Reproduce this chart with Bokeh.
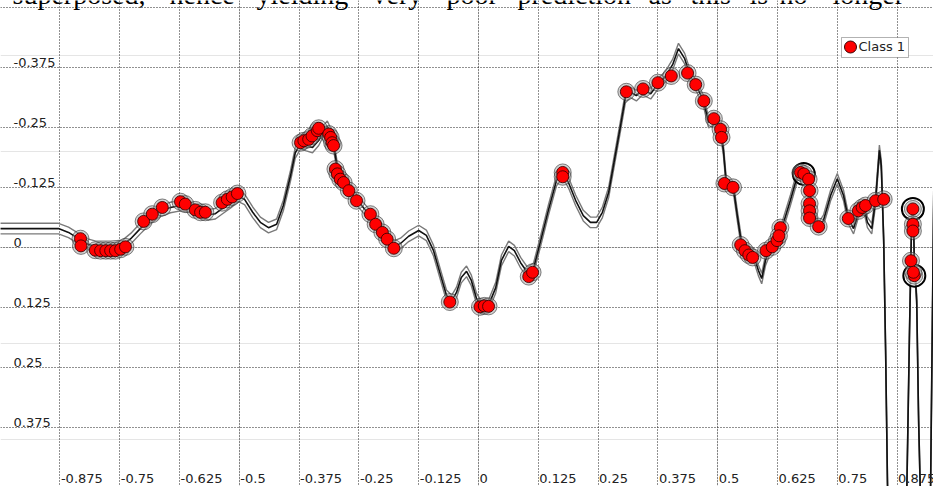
from bokeh.plotting import figure
from bokeh.models import Range1d, Grid, FixedTicker, BoxAnnotation
from bokeh.core.properties import value
from bokeh.embed import file_html
from bokeh.resources import INLINE

# ---------------- data ----------------
CURVE_X = [-1.000, -0.878, -0.857, -0.836, -0.815, -0.800, -0.769, -0.744, -0.727, -0.707,
           -0.686, -0.665, -0.644, -0.623, -0.602, -0.581, -0.564, -0.550, -0.535, -0.518,
           -0.502, -0.489, -0.472, -0.456, -0.439, -0.422, -0.408, -0.393, -0.383, -0.372,
           -0.360, -0.347, -0.334, -0.324, -0.316, -0.307, -0.301, -0.295, -0.278, -0.257,
           -0.236, -0.215, -0.194, -0.178, -0.163, -0.146, -0.125, -0.109, -0.094, -0.079,
           -0.067, -0.056, -0.046, -0.036, -0.025, -0.015, -0.004, 0.006, 0.021, 0.036,
           0.048, 0.063, 0.075, 0.088, 0.102, 0.115, 0.130, 0.146, 0.163, 0.176,
           0.188, 0.203, 0.219, 0.234, 0.247, 0.259, 0.272, 0.284, 0.297, 0.307,
           0.318, 0.330, 0.343, 0.360, 0.374, 0.391, 0.406, 0.418, 0.431, 0.443,
           0.458, 0.470, 0.481, 0.489, 0.497, 0.506, 0.512, 0.518, 0.533, 0.541,
           0.550, 0.564, 0.577, 0.585, 0.592, 0.600, 0.610, 0.623, 0.635, 0.652,
           0.667, 0.677, 0.688, 0.694, 0.702, 0.711, 0.721, 0.736, 0.750, 0.763,
           0.773, 0.784, 0.794, 0.805, 0.813, 0.822, 0.830, 0.838, 0.842, 0.847,
           0.851, 0.855, 0.874, 0.895, 0.901, 0.905, 0.907, 0.909, 0.911, 0.916,
           0.920, 0.924, 0.934, 0.945, 0.952]
CURVE_Y = [-0.040, -0.040, -0.032, -0.019, -0.007, -0.003, -0.003, -0.005, -0.019, -0.040,
           -0.061, -0.076, -0.084, -0.088, -0.084, -0.074, -0.069, -0.071, -0.082, -0.094,
           -0.107, -0.101, -0.074, -0.053, -0.042, -0.049, -0.088, -0.150, -0.198, -0.217,
           -0.213, -0.209, -0.224, -0.244, -0.253, -0.234, -0.203, -0.165, -0.134, -0.103,
           -0.078, -0.053, -0.024, -0.003, -0.009, -0.024, -0.036, -0.026, 0.006, 0.058,
           0.099, 0.110, 0.093, 0.062, 0.049, 0.068, 0.106, 0.122, 0.120, 0.083,
           0.026, -0.003, 0.006, 0.031, 0.051, 0.043, -0.015, -0.078, -0.140, -0.157,
           -0.136, -0.099, -0.067, -0.053, -0.053, -0.074, -0.115, -0.182, -0.255, -0.313,
           -0.324, -0.317, -0.330, -0.321, -0.340, -0.357, -0.382, -0.415, -0.394, -0.357,
           -0.332, -0.307, -0.261, -0.265, -0.269, -0.244, -0.203, -0.134, -0.124, -0.067,
           -0.007, 0.014, 0.022, 0.047, 0.064, 0.026, 0.001, -0.015, -0.044, -0.099,
           -0.151, -0.157, -0.144, -0.109, -0.067, -0.042, -0.057, -0.109, -0.144, -0.109,
           -0.061, -0.040, -0.074, -0.088, -0.053, -0.040, -0.099, -0.203, -0.171, -0.015,
           0.214, 0.497, 1.151, 0.526, 0.172, -0.036, -0.082, -0.067, 0.026, 0.110,
           0.360, 0.526, 0.943, 0.500, -0.150]
BAND = 0.011  # half-width of the grey confidence lines

PTS_X = [-0.832, -0.831, -0.801, -0.790, -0.779, -0.769, -0.759, -0.748, -0.738, -0.700,
         -0.682, -0.661, -0.623, -0.613, -0.592, -0.581, -0.571, -0.536, -0.525, -0.515,
         -0.504, -0.372, -0.365, -0.355, -0.348, -0.337, -0.334, -0.313, -0.309, -0.306,
         -0.303, -0.299, -0.295, -0.289, -0.282, -0.271, -0.255, -0.226, -0.215, -0.201,
         -0.191, -0.177, -0.060, 0.003, 0.012, 0.021, 0.105, 0.113, 0.176, 0.176,
         0.309, 0.344, 0.375, 0.403, 0.437, 0.454, 0.471, 0.492, 0.506, 0.508,
         0.514, 0.532, 0.548, 0.557, 0.565, 0.573, 0.601, 0.614, 0.624, 0.631,
         0.628, 0.673, 0.680, 0.690, 0.692, 0.692, 0.692, 0.692, 0.711, 0.773,
         0.794, 0.802, 0.809, 0.830, 0.847, 0.908, 0.908, 0.908, 0.904, 0.911, 0.909]
PTS_Y = [-0.019, -0.004, 0.005, 0.006, 0.006, 0.006, 0.006, 0.003, -0.002, -0.055,
         -0.070, -0.084, -0.096, -0.091, -0.079, -0.074, -0.074, -0.094, -0.101, -0.106,
         -0.113, -0.219, -0.223, -0.226, -0.233, -0.244, -0.249, -0.237, -0.230, -0.219,
         -0.213, -0.164, -0.154, -0.143, -0.136, -0.119, -0.098, -0.070, -0.049, -0.032,
         -0.018, 0.001, 0.113, 0.123, 0.121, 0.122, 0.060, 0.051, -0.157, -0.148,
         -0.325, -0.331, -0.344, -0.358, -0.364, -0.340, -0.306, -0.269, -0.247, -0.230,
         -0.134, -0.126, -0.006, 0.006, 0.015, 0.020, 0.006, -0.002, -0.015, -0.042,
         -0.025, -0.157, -0.154, -0.143, -0.119, -0.092, -0.077, -0.062, -0.044, -0.061,
         -0.077, -0.084, -0.088, -0.098, -0.101, -0.081, -0.049, -0.035, 0.027, 0.058, 0.051]
STRONG = [72, 85, 89]  # points drawn with an extra dark ring

X_TICKS = [-0.875, -0.75, -0.625, -0.5, -0.375, -0.25, -0.125, 0.0,
           0.125, 0.25, 0.375, 0.5, 0.625, 0.75, 0.875]
X_TICK_LABELS = ["-0.875", "-0.75", "-0.625", "-0.5", "-0.375", "-0.25", "-0.125", "0",
                 "0.125", "0.25", "0.375", "0.5", "0.625", "0.75", "0.875"]
Y_GRID = [-0.5, -0.375, -0.25, -0.125, 0.0, 0.125, 0.25, 0.375, 0.5]
Y_TICKS = [-0.375, -0.25, -0.125, 0.0, 0.125, 0.25, 0.375]
Y_TICK_LABELS = ["-0.375", "-0.25", "-0.125", "0", "0.125", "0.25", "0.375"]
LEGEND_LABEL = "Class 1"
HEADER_WORDS = ["superposed,", "hence", "yielding", "very", "poor", "prediction",
                "as", "this", "is", "no", "longer"]

# ---------------- layout (page pixels) ----------------
W, H = 933, 486
X0, X1 = -0.9992, 0.9511
Y_TOP, Y_BOT = -0.5152, 0.4973
HEADER_PX = [12, 169, 256, 372, 446, 517, 648, 690, 749, 779, 832]

FONT = value("DejaVu Sans")


def px2x(px):
    return X0 + px / W * (X1 - X0)


def py2y(py):
    return Y_TOP + py / H * (Y_BOT - Y_TOP)


p = figure(width=W, height=H, x_range=Range1d(X0, X1), y_range=Range1d(Y_BOT, Y_TOP),
           x_axis_location=None, y_axis_location=None, toolbar_location=None,
           output_backend="svg", min_border=0, outline_line_color=None)

for dim, ticks in ((0, X_TICKS), (1, Y_GRID)):
    p.add_layout(Grid(dimension=dim, ticker=FixedTicker(ticks=ticks),
                      grid_line_color="#222222", grid_line_dash="1 2", grid_line_width=1))

upper = [y - BAND for y in CURVE_Y]
lower = [y + BAND for y in CURVE_Y]
p.line(CURVE_X, upper, line_color="#7a7a7a", line_width=1.4)
p.line(CURVE_X, lower, line_color="#7a7a7a", line_width=1.4)
p.line(CURVE_X, CURVE_Y, line_color="#111111", line_width=1.6)

sx = [PTS_X[i] for i in STRONG]
sy = [PTS_Y[i] for i in STRONG]
p.scatter(sx, sy, size=22, fill_color="white", fill_alpha=0.6, line_color="black", line_width=2)
p.scatter(PTS_X, PTS_Y, size=17, fill_color="#9a9a9a", fill_alpha=0.45,
          line_color="#222222", line_alpha=0.55, line_width=1)
p.scatter(PTS_X, PTS_Y, size=12, fill_color="#ff0000", line_color="#3a0000",
          line_alpha=0.85, line_width=1)

# tick labels drawn inside the plot area (vertically centred on their pixel rows)
p.text(x=[px2x(13)] * len(Y_TICKS), y=Y_TICKS, text=Y_TICK_LABELS, y_offset=-5,
       text_align="left", text_baseline="middle", text_font=FONT,
       text_font_size="13px", text_color="#222222")
p.text(x=X_TICKS, y=[py2y(477.5)] * len(X_TICKS), text=X_TICK_LABELS, x_offset=1.0,
       text_align="left", text_baseline="middle", text_font=FONT,
       text_font_size="13px", text_color="#222222")

# legend
p.add_layout(BoxAnnotation(left=px2x(841), right=px2x(908), top=py2y(37), bottom=py2y(57),
                           fill_color="white", fill_alpha=1, line_color="black", line_width=1))
mk = p.scatter([px2x(850)], [py2y(46.5)], size=12, fill_color="#ff0000",
               line_color="#3a0000", line_width=1)
mk.level = "overlay"
lt = p.text(x=[px2x(858)], y=[py2y(45.5)], text=[LEGEND_LABEL], text_align="left",
            text_baseline="middle", text_font=FONT, text_font_size="13px",
            text_color="#222222")
lt.level = "overlay"

# clipped line of document text above the chart (only its lower part is visible)
p.text(x=[px2x(v) for v in HEADER_PX], y=[py2y(-6)] * len(HEADER_WORDS), text=HEADER_WORDS,
       text_align="left", text_baseline="middle", text_font=value("Liberation Serif"),
       text_font_size="28px", text_color="black")

open("out.html", "w").write(file_html(p, INLINE))
